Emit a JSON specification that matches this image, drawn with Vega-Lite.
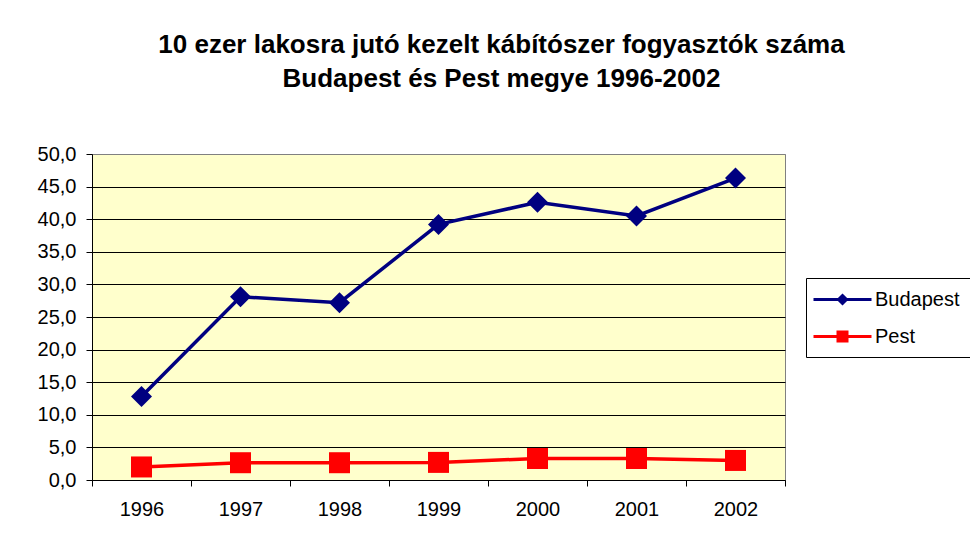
{
  "$schema": "https://vega.github.io/schema/vega-lite/v6.json",
  "width": 693,
  "height": 326,
  "autosize": {"type": "none"},
  "padding": {"left": 92, "top": 154, "right": 185, "bottom": 71},
  "background": "white",
  "title": {
    "text": ["10 ezer lakosra jutó kezelt kábítószer fogyasztók száma", "Budapest és Pest megye 1996-2002"],
    "font": "Liberation Sans",
    "fontSize": 26,
    "fontWeight": "bold",
    "color": "black",
    "anchor": "middle",
    "dx": 63,
    "offset": 52,
    "lineHeight": 34
  },
  "data": {
    "values": [
      {"year": "1996", "series": "Budapest", "value": 12.8},
      {"year": "1997", "series": "Budapest", "value": 28.1},
      {"year": "1998", "series": "Budapest", "value": 27.2},
      {"year": "1999", "series": "Budapest", "value": 39.2},
      {"year": "2000", "series": "Budapest", "value": 42.6},
      {"year": "2001", "series": "Budapest", "value": 40.5},
      {"year": "2002", "series": "Budapest", "value": 46.3},
      {"year": "1996", "series": "Pest", "value": 2.0},
      {"year": "1997", "series": "Pest", "value": 2.65},
      {"year": "1998", "series": "Pest", "value": 2.65},
      {"year": "1999", "series": "Pest", "value": 2.7},
      {"year": "2000", "series": "Pest", "value": 3.3},
      {"year": "2001", "series": "Pest", "value": 3.3},
      {"year": "2002", "series": "Pest", "value": 3.0}
    ]
  },
  "encoding": {
    "x": {
      "field": "year",
      "type": "ordinal",
      "scale": {"type": "band", "paddingInner": 0, "paddingOuter": 0},
      "axis": {
        "title": null,
        "labelAngle": 0,
        "tickBand": "extent",
        "domainColor": "black",
        "tickColor": "black",
        "tickSize": 6,
        "labelFont": "Liberation Sans",
        "labelFontSize": 20,
        "labelColor": "black",
        "labelPadding": 13,
        "grid": false
      }
    },
    "y": {
      "field": "value",
      "type": "quantitative",
      "scale": {"domain": [0, 50], "nice": false},
      "axis": {
        "title": null,
        "values": [0, 5, 10, 15, 20, 25, 30, 35, 40, 45, 50],
        "labelExpr": "replace(format(datum.value, '.1f'), '.', ',')",
        "grid": true,
        "gridColor": {"condition": {"test": "datum.value === 50", "value": "#808080"}, "value": "black"},
        "gridWidth": 1,
        "gridOpacity": 1,
        "domainColor": "black",
        "tickColor": "black",
        "tickSize": 6,
        "labelFont": "Liberation Sans",
        "labelFontSize": 20,
        "labelColor": "black",
        "labelPadding": 10
      }
    },
    "color": {
      "field": "series",
      "type": "nominal",
      "scale": {"domain": ["Budapest", "Pest"], "range": ["#000080", "#FF0000"]},
      "legend": {
        "orient": "none",
        "legendX": 714,
        "legendY": 124,
        "title": null,
        "strokeColor": "black",
        "fillColor": "white",
        "padding": 10,
        "labelFont": "Liberation Sans",
        "labelFontSize": 20,
        "labelColor": "black",
        "symbolSize": 400,
        "symbolStrokeWidth": 3,
        "labelOffset": 36,
        "rowPadding": 15,
        "encode": {
          "symbols": {
            "update": {
              "shape": {"signal": "datum.value === 'Budapest' ? 'M-1.4,0H4.4M1.5,-0.4L1.9,0L1.5,0.4L1.1,0Z' : 'M-1.4,0H4.4M1.05,-0.45H1.95V0.45H1.05Z'"},
              "fill": {"signal": "datum.value === 'Budapest' ? '#000080' : '#FF0000'"},
              "stroke": {"signal": "datum.value === 'Budapest' ? '#000080' : '#FF0000'"},
              "strokeWidth": {"value": 3},
              "opacity": {"value": 1},
              "fillOpacity": {"value": 1}
            }
          }
        }
      }
    }
  },
  "layer": [
    {"mark": {"type": "line", "strokeWidth": 3.5}},
    {
      "mark": {"type": "point", "filled": true, "opacity": 1, "size": 441},
      "encoding": {
        "shape": {
          "condition": {"test": "datum.series === 'Budapest'", "value": "diamond"},
          "value": "square"
        }
      }
    }
  ],
  "config": {
    "view": {"fill": "#FFFFCC", "stroke": "#808080", "strokeWidth": 1}
  }
}
